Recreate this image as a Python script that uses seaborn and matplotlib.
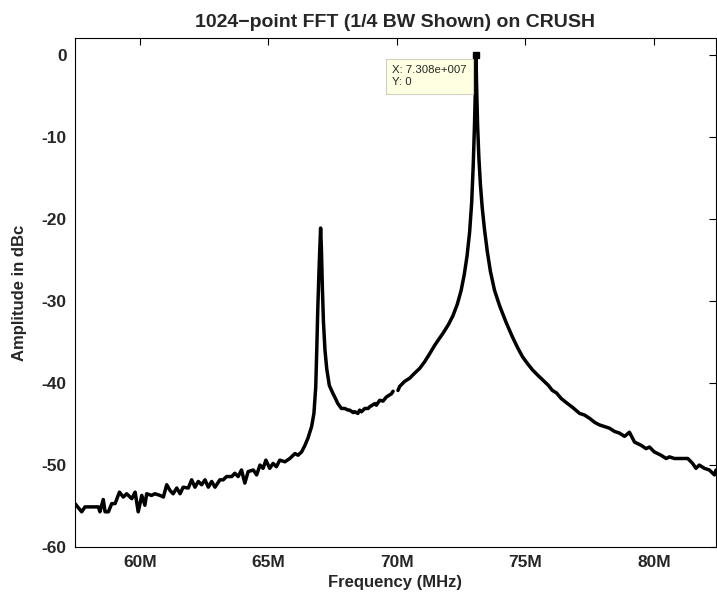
import numpy as np
import pandas as pd
import seaborn as sns
import matplotlib.pyplot as plt

# spectrum (MHz, dBc); NaN marks the small gap near 70 MHz
freq_mhz = [
    57.47, 57.73, 57.86, 58.10, 58.38, 58.44, 58.57, 58.64, 58.77, 58.90,
    59.03, 59.20, 59.35, 59.48, 59.68, 59.81, 59.93, 60.07, 60.19, 60.26,
    60.45, 60.58, 60.78, 60.91, 61.04, 61.17, 61.29, 61.43, 61.56, 61.68,
    61.88, 62.01, 62.14, 62.27, 62.40, 62.53, 62.66, 62.79, 62.92, 63.11,
    63.24, 63.37, 63.57, 63.69, 63.82, 63.95, 64.08, 64.21, 64.41, 64.54,
    64.67, 64.79, 64.90, 65.05, 65.18, 65.31, 65.44, 65.64, 65.83, 66.03,
    66.15, 66.29, 66.42, 66.54, 66.68, 66.77, 66.84, 66.88, 66.92, 66.96,
    67.00, 67.03, 67.06, 67.10, 67.14, 67.20, 67.27, 67.37, 67.50, 67.58,
    67.70, 67.84, 67.97, 68.10, 68.16, 68.30, 68.36, 68.48, 68.55, 68.62,
    68.75, 68.88, 68.94, 69.14, 69.20, 69.33, 69.46, 69.59, 69.79, 69.85,
    69.92, 70.04, 70.11, 70.30, 70.50, 70.69, 70.89, 71.08, 71.28, 71.47,
    71.60, 71.80, 72.00, 72.18, 72.35, 72.50, 72.62, 72.73, 72.83, 72.91,
    72.97, 73.02, 73.06, 73.08, 73.10, 73.14, 73.19, 73.25, 73.32, 73.41,
    73.52, 73.64, 73.80, 74.00, 74.25, 74.50, 74.70, 74.89, 75.10, 75.28,
    75.50, 75.67, 75.90, 76.05, 76.21, 76.40, 76.60, 76.85, 77.11, 77.30,
    77.50, 77.70, 77.88, 78.27, 78.47, 78.66, 78.86, 79.05, 79.25, 79.51,
    79.70, 79.83, 80.02, 80.28, 80.48, 80.61, 80.80, 81.06, 81.32, 81.51,
    81.64, 81.77, 81.97, 82.16, 82.36, 82.42,
]
amp_dbc = [
    -54.7, -55.7, -55.1, -55.1, -55.1, -55.7, -54.2, -55.7, -55.7, -54.7,
    -54.7, -53.3, -53.9, -53.5, -54.1, -53.3, -55.7, -53.7, -54.9, -53.5,
    -53.7, -53.5, -53.7, -53.9, -52.4, -53.1, -53.5, -52.8, -53.5, -52.7,
    -52.8, -51.8, -52.7, -52.0, -52.4, -51.8, -52.7, -52.0, -52.7, -51.8,
    -51.8, -51.4, -51.4, -51.0, -51.4, -50.6, -52.2, -50.8, -50.6, -51.2,
    -50.0, -50.4, -49.4, -50.4, -49.8, -50.2, -49.4, -49.6, -49.2, -48.6,
    -48.8, -48.4, -47.6, -46.7, -45.3, -43.7, -40.5, -36.0, -31.0, -27.0,
    -23.5, -21.1, -23.5, -28.5, -32.5, -36.0, -38.3, -40.3, -41.2, -41.7,
    -42.5, -43.1, -43.1, -43.3, -43.3, -43.6, -43.5, -43.7, -43.3, -43.5,
    -43.1, -43.1, -42.9, -42.5, -42.7, -42.1, -42.2, -41.7, -41.3, -41.0,
    np.nan, -40.9, -40.4, -39.8, -39.4, -38.8, -38.2, -37.4, -36.4, -35.4,
    -34.8, -33.9, -32.9, -31.8, -30.4, -28.7, -26.8, -24.5, -21.6, -18.0,
    -13.5, -8.5, -3.5, 0.0, -3.5, -8.5, -12.5, -15.8, -18.6, -21.3,
    -24.0, -26.4, -28.7, -30.6, -32.6, -34.4, -35.7, -36.8, -37.7, -38.4,
    -39.1, -39.6, -40.3, -40.9, -41.2, -41.9, -42.4, -43.0, -43.7, -43.9,
    -44.3, -44.8, -45.1, -45.5, -45.9, -46.1, -46.5, -46.0, -47.2, -47.6,
    -48.0, -47.8, -48.4, -48.8, -49.2, -49.0, -49.2, -49.2, -49.2, -49.8,
    -50.4, -50.0, -50.4, -50.6, -51.2, -50.6,
]

x_ticks = [60, 65, 70, 75, 80]
x_ticklabels = ['60M', '65M', '70M', '75M', '80M']
y_ticks = [0, -10, -20, -30, -40, -50, -60]

tip_x = 73.08
tip_y = 0.0

df = pd.DataFrame({'freq': freq_mhz, 'amp': amp_dbc})
# split at the gap so the line breaks there
df['seg'] = df['amp'].isna().cumsum()
df = df.dropna()

sns.set_theme(style='white')
plt.rcParams['font.family'] = ['Liberation Sans', 'DejaVu Sans']

fig = plt.figure(figsize=(7.17, 5.94), dpi=100)
ax = fig.add_axes([0.1046, 0.079, 0.894, 0.857])

sns.lineplot(data=df, x='freq', y='amp', units='seg', estimator=None,
             color='black', linewidth=2.5, sort=False, ax=ax)

# data tip like the matlab one
ax.plot([tip_x], [tip_y], marker='s', color='black', markersize=5, zorder=5,
        clip_on=False)
ax.annotate('X: 7.308e+007\nY: 0', xy=(tip_x, tip_y), xytext=(-84, -10),
            textcoords='offset pixels', ha='left', va='top', fontsize=8.2,
            linespacing=1.3,
            bbox=dict(boxstyle='square,pad=0.55', facecolor='#ffffe1',
                      edgecolor='#d0d0c0', linewidth=0.8))

ax.set_xlim(57.47, 82.42)
ax.set_ylim(-60, 2.07)
ax.set_xticks(x_ticks)
ax.set_xticklabels(x_ticklabels)
ax.set_yticks(y_ticks)
ax.set_yticklabels([str(v) for v in y_ticks])

for s in ax.spines.values():
    s.set_color('black')
    s.set_linewidth(0.8)
ax.tick_params(direction='in', top=True, right=True, length=5, width=0.8,
               color='black', labelsize=12.5, pad=6)
for lab in ax.get_xticklabels() + ax.get_yticklabels():
    lab.set_fontweight('bold')

ax.set_xlabel('Frequency (MHz)', fontsize=12, fontweight='bold', labelpad=3.5)
ax.set_ylabel('Amplitude in dBc', fontsize=12, fontweight='bold', labelpad=10.5)
ax.set_title('1024\u2212point FFT (1/4 BW Shown) on CRUSH', fontsize=14,
             fontweight='bold', pad=8)

fig.savefig('out.png', dpi=100)
plt.close()
